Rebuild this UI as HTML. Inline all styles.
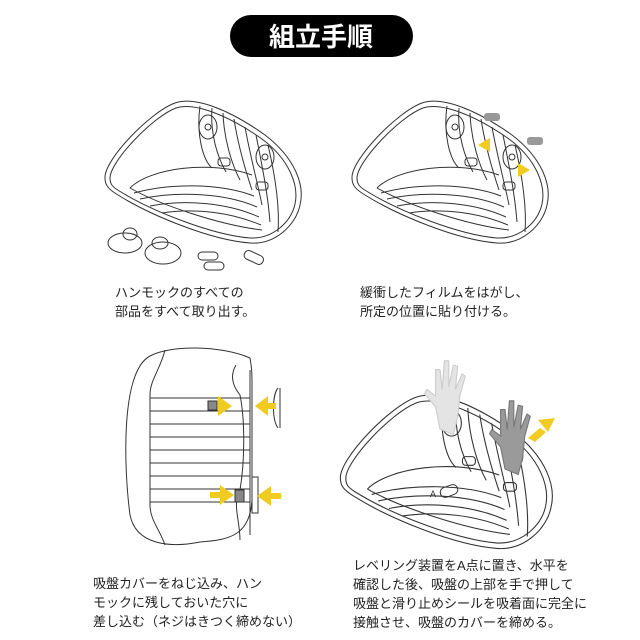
<!DOCTYPE html>
<html><head><meta charset="utf-8"><style>
html,body{margin:0;padding:0;background:#fff;}
body{width:640px;height:640px;position:relative;overflow:hidden;font-family:"Liberation Sans","Noto Sans CJK JP",sans-serif;}
.t{position:absolute;font-size:13px;line-height:19px;color:#222;white-space:nowrap;}
</style></head><body>
<svg width="640" height="640" style="position:absolute;left:0;top:0">
<defs>
<g id="basket" fill="none" stroke="#333" stroke-width="1">
<path d="M105,178 C104,160 150,112 175,103 C195,96 230,110 265,135 C295,158 305,185 300,205 C296,225 275,245 250,243 C210,240 150,215 118,195 C108,189 105,185 105,178 Z"/>
<path d="M110,178 C110,162 152,117 176,108 C194,102 228,115 262,139 C290,160 299,186 295,204 C291,222 273,239 250,238 C212,235 152,211 121,192 C112,187 110,184 110,178 Z"/>
<path d="M130,188 C150,168 210,160 252,175"/>
<path d="M130,188 C160,205 220,225 262,230"/>
<path d="M200,106 C196,135 203,160 212,168"/>
<path d="M212,108 C210,135 218,158 226,172"/>
<path d="M223,113 C224,140 232,165 240,180"/>
<path d="M234,119 C238,145 246,172 252,190"/>
<path d="M245,127 C250,155 258,185 262,205"/>
<path d="M256,135 C262,165 268,195 270,222"/>
<path d="M268,145 C275,175 280,205 278,232"/>
<path d="M134,193 C170,183 220,183 254,196"/>
<path d="M140,199 C178,191 225,193 257,207"/>
<path d="M150,206 C185,199 228,203 259,217"/>
<path d="M162,213 C195,208 230,212 261,225"/>
<ellipse cx="208" cy="127" rx="9" ry="12"/><circle cx="208" cy="127" r="3"/>
<ellipse cx="265" cy="157" rx="9" ry="12"/><circle cx="265" cy="157" r="3"/>
<rect x="218" y="158" width="12" height="8" rx="3"/>
<rect x="256" y="182" width="12" height="8" rx="3"/>
</g>
<g id="hand">
<path d="M0,40 L-4,20 L-14,8 L-12,4 L-4,10 L-4,-14 L0,-14 L2,4 L4,-22 L8,-22 L8,2 L12,-18 L16,-17 L14,4 L20,-10 L23,-8 L18,10 L16,30 L12,45 Z"/>
</g>
</defs>
<rect x="230" y="15" width="183" height="42" rx="21" fill="#000"/>
<text x="321" y="46" text-anchor="middle" fill="#fff" font-size="26" font-weight="bold" font-family="'Noto Sans CJK JP',sans-serif">組立手順</text>

<use href="#basket"/>
<g fill="none" stroke="#333">
<ellipse cx="125" cy="243" rx="17" ry="10"/><ellipse cx="130" cy="234" rx="7" ry="6"/>
<ellipse cx="163" cy="253" rx="18" ry="11"/><ellipse cx="160" cy="243" rx="8" ry="6"/>
<rect x="198" y="252" width="20" height="8" rx="4"/><rect x="204" y="262" width="20" height="8" rx="4"/>
<rect x="244" y="253" width="20" height="9" rx="4" transform="rotate(25 254 257)"/>
</g>

<use href="#basket" transform="translate(247,0)"/>
<rect x="484" y="113" width="16" height="8" rx="3" fill="#999"/>
<rect x="527" y="137" width="16" height="8" rx="3" fill="#999"/>
<polygon points="478,145 490,138 490,152" fill="#f2cb20"/>
<polygon points="530,170 518,163 518,177" fill="#f2cb20"/>

<g fill="none" stroke="#333">
<path d="M250,358 C220,345 170,345 150,356 C120,372 124,470 130,515 C136,545 170,548 200,542 C230,540 250,535 252,500 L252,380 C252,365 250,360 250,358 Z"/>
<path d="M165,350 C160,370 150,380 150,395 L150,505 C150,520 160,530 165,545"/>
<path d="M236,365 C230,375 232,385 240,395 C245,420 245,460 240,490 C232,505 240,520 240,540"/>
<line x1="250" y1="370" x2="250" y2="535"/>
<g stroke-width="0.9">
<line x1="150" y1="398" x2="250" y2="398"/><line x1="150" y1="411" x2="250" y2="411"/>
<line x1="150" y1="424" x2="250" y2="424"/><line x1="150" y1="437" x2="250" y2="437"/>
<line x1="150" y1="450" x2="250" y2="450"/><line x1="150" y1="463" x2="250" y2="463"/>
<line x1="150" y1="476" x2="250" y2="476"/><line x1="150" y1="489" x2="250" y2="489"/>
<line x1="150" y1="502" x2="250" y2="502"/>
</g>
<path d="M278,388 C272,395 272,420 278,428"/><line x1="280" y1="388" x2="280" y2="428"/>
<rect x="252" y="477" width="6" height="36"/>
<rect x="208" y="401" width="9" height="9" fill="#888"/><rect x="235" y="490" width="9" height="12" fill="#888"/>
</g>
<g fill="#f2cb20">
<polygon points="232,406 218,396 218,416"/><polygon points="255,406 268,396 268,416"/><rect x="268" y="403" width="8" height="6"/>
<polygon points="234,495 220,485 220,505"/><rect x="210" y="492" width="10" height="6"/>
<polygon points="257,496 271,486 271,506"/><rect x="271" y="493" width="10" height="6"/>
</g>

<use href="#basket" transform="translate(227,286) scale(1.08)"/>
<use href="#hand" transform="translate(440,385) scale(1.1)" fill="#e4e4e4" stroke="#ccc"/>
<use href="#hand" transform="translate(505,425) scale(1.1)" fill="#9a9a9a" stroke="#777"/>
<polygon points="555,418 538,420 548,432" fill="#f2cb20"/><polygon points="540,428 528,438 535,442 546,432" fill="#f2cb20"/>
<rect x="440" y="486" width="18" height="10" rx="5" fill="none" stroke="#333" transform="rotate(-20 449 491)"/>
<text x="430" y="497" font-size="9" fill="#333">A</text>
</svg>

<div class="t" style="left:115px;top:283px">ハンモックのすべての<br>部品をすべて取り出す。</div>
<div class="t" style="left:360px;top:283px">緩衝したフィルムをはがし、<br>所定の位置に貼り付ける。</div>
<div class="t" style="left:93px;top:574px">吸盤カバーをねじ込み、ハン<br>モックに残しておいた穴に<br>差し込む（ネジはきつく締めない）</div>
<div class="t" style="left:353px;top:556px">レベリング装置をA点に置き、水平を<br>確認した後、吸盤の上部を手で押して<br>吸盤と滑り止めシールを吸着面に完全に<br>接触させ、吸盤のカバーを締める。</div>
</body></html>
